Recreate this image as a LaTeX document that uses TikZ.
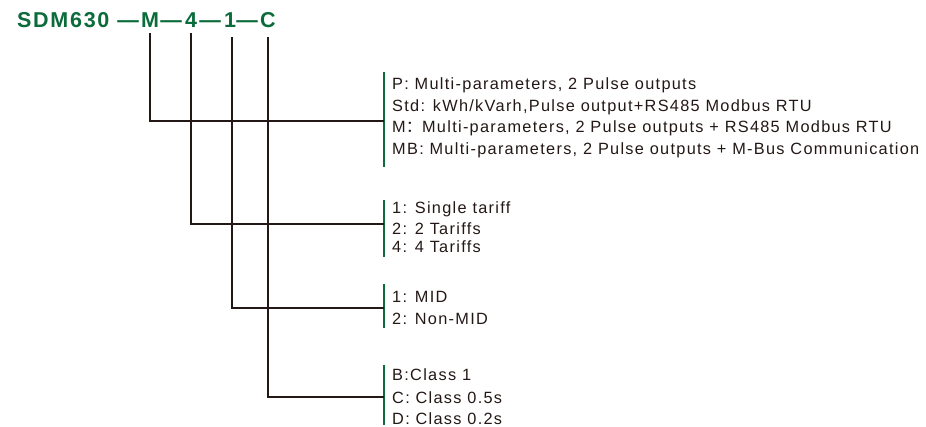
\documentclass[tikz,border=0pt]{standalone}
\usepackage{fontspec}
\usepackage{xcolor}
\usetikzlibrary{positioning}
\newfontfamily\codefont{Liberation Sans}[LetterSpace=8]
\newfontfamily\optfont{Liberation Sans}[LetterSpace=8]
\newfontfamily\cjkfont{Noto Sans CJK SC}
\definecolor{codegreen}{HTML}{0B6B3A}
\definecolor{inkblack}{HTML}{231815}
\tikzset{
    code-part/.style = {text=codegreen, font=\codefont\bfseries\fontsize{21.5}{21.5}\selectfont, inner sep=0pt, anchor=base},
    lead-line/.style = {draw=inkblack, line width=2pt},
    group-bar/.style = {draw=codegreen, line width=2pt},
    option/.style = {text=inkblack, font=\optfont\fontsize{16.3}{22}\selectfont, inner sep=0pt, anchor=base west},
}

\begin{document}
\begin{tikzpicture}[x=1pt, y=-1pt]
\useasboundingbox (0,0) rectangle (926,427);
% ordering code
\node[code-part, anchor=base west] (model) at (17,28) {SDM630};
\node[code-part] (dash-a) at (128,28) {—};
\node[code-part] (m) at (150,28) {M};
\node[code-part] (dash-b) at (171,28) {—};
\node[code-part] (tariff) at (191,28) {4};
\node[code-part] (dash-c) at (210,28) {—};
\node[code-part] (mid) at (230,28) {1};
\node[code-part] (dash-d) at (247,28) {—};
\node[code-part] (class) at (268,28) {C};

% option groups
\coordinate (bar-m) at (384,121);
\coordinate (bar-tariff) at (384,224);
\coordinate (bar-mid) at (384,308);
\coordinate (bar-class) at (384,397);
\draw[group-bar] (384,72) -- (384,167);
\draw[group-bar] (384,200) -- (384,257);
\draw[group-bar] (384,284) -- (384,328);
\draw[group-bar] (384,365) -- (384,425);

\node[option] (opt-p) at (392,90) {P: Multi-parameters, 2 Pulse outputs};
\node[option] (opt-std) at (392,111.5) {Std: kWh/kVarh,Pulse output+RS485 Modbus RTU};
\node[option] (opt-m) at (392,133) {M{\cjkfont ：}Multi-parameters, 2 Pulse outputs + RS485 Modbus RTU};
\node[option] (opt-mb) at (392,154.5) {MB: Multi-parameters, 2 Pulse outputs + M-Bus Communication};

\node[option] (opt-single) at (392,214) {1: Single tariff};
\node[option] (opt-two) at (392,235) {2: 2 Tariffs};
\node[option] (opt-four) at (392,253) {4: 4 Tariffs};

\node[option] (opt-mid) at (392,303) {1: MID};
\node[option] (opt-nonmid) at (392,325) {2: Non-MID};

\node[option] (opt-b) at (392,381) {B:Class 1};
\node[option] (opt-c) at (392,403) {C: Class 0.5s};
\node[option] (opt-d) at (392,424) {D: Class 0.2s};

% leads
\draw[lead-line] ([yshift=-5pt]m.south) |- (bar-m);
\draw[lead-line] ([yshift=-5pt]tariff.south) |- (bar-tariff);
\draw[lead-line] ([yshift=-9pt]mid.south -| 232,0) |- (bar-mid);
\draw[lead-line] ([yshift=-9pt]class.south) |- (bar-class);
\end{tikzpicture}
\end{document}
